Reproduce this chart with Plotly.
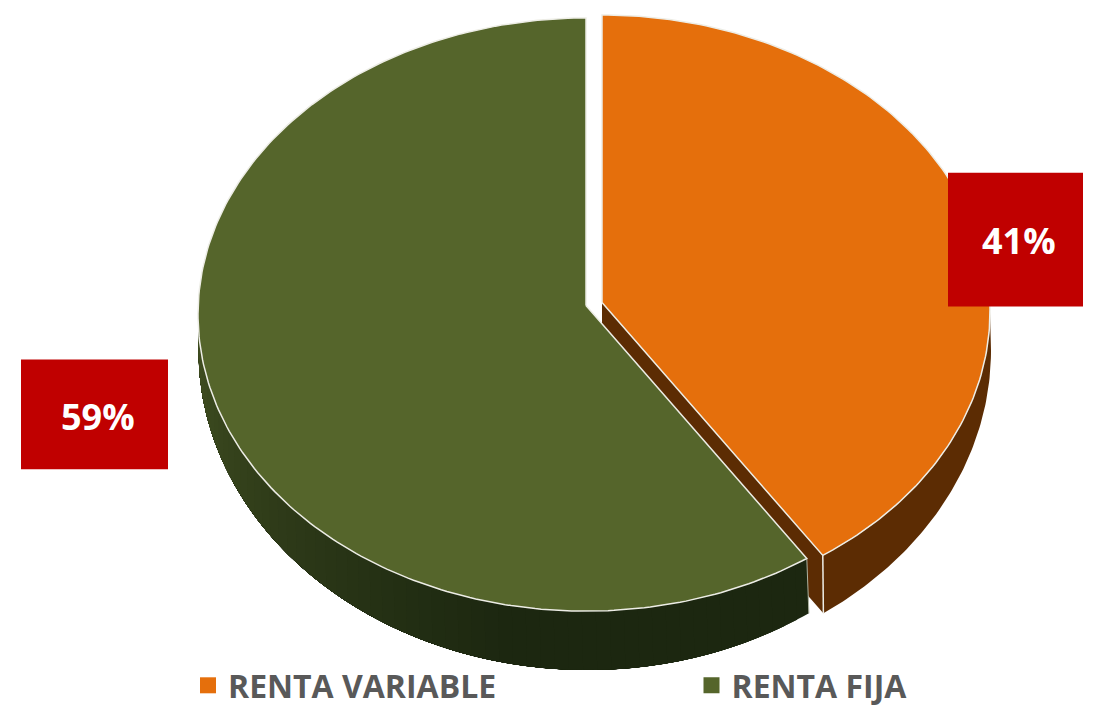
import numpy as np
import plotly.graph_objects as go

categories = ["RENTA VARIABLE", "RENTA FIJA"]
values = [41, 59]
top_colors = ["#E56F0C", "#55652B"]

FONT = "Open Sans"
W, H = 1100, 713
RX, RY = 388, 297
BRX, BRY = 389, 320     # lower rim of the disc
WARP = 0.9845           # perspective correction of the slice boundary
CENTERS = {0: (602, 312), 1: (586, 315)}
APEX = {0: (602, 303), 1: (586, 306)}
BOTTOM_C = {0: (602, 351), 1: (587.5, 351)}
EDGE = "#EDEDE6"
ORANGE_WALL = "#5C2C03"

boundary = np.radians(values[0] / sum(values) * 360 * WARP)


def top_arc(i, t):
    cx, cy = CENTERS[i]
    return cx + RX * np.sin(t), cy - RY * np.cos(t)


def low_arc(i, t):
    cx, cy = BOTTOM_C[i]
    return cx + BRX * np.sin(t), cy - BRY * np.cos(t)


def poly(x, y, fill, line=None, width=0.0):
    return go.Scatter(
        x=list(x), y=list(y), mode="lines", fill="toself", fillcolor=fill,
        line=dict(color=line or fill, width=width), hoverinfo="skip", showlegend=False,
    )


def mix(a, b, f):
    return "rgb(%d,%d,%d)" % tuple(round(p + (q - p) * f) for p, q in zip(a, b))


fig = go.Figure()

# orange outer wall
t = np.linspace(np.pi / 2, boundary, 80)
tx, ty = top_arc(0, t)
lx, ly = low_arc(0, t)
fig.add_trace(poly(np.r_[tx, lx[::-1]], np.r_[ty, ly[::-1]], ORANGE_WALL))

# orange cut face
cx, cy = top_arc(0, boundary)
lcx, lcy = low_arc(0, boundary)
ax, ay = APEX[0]
fig.add_trace(poly([ax, cx, lcx, ax, ax], [ay, cy, lcy, ay + (lcy - cy), ay], ORANGE_WALL))
fig.add_trace(go.Scatter(x=[cx, lcx], y=[cy, lcy], mode="lines", line=dict(color=EDGE, width=1.5),
                         hoverinfo="skip", showlegend=False))

# orange top
t = np.linspace(0, boundary, 160)
tx, ty = top_arc(0, t)
fig.add_trace(poly(np.r_[ax, tx, ax], np.r_[ay, ty, ay], top_colors[0], EDGE, 1.5))

# green outer wall, shaded by painting ever shorter overlapping bands
end = 1.5 * np.pi
starts = np.linspace(boundary, end, 60, endpoint=False)
dark, light = (28, 39, 16), (66, 80, 34)
for a in starts:
    t = np.linspace(a, end, 120)
    tx, ty = top_arc(1, t)
    lx, ly = low_arc(1, t)
    f = np.clip((a - np.radians(190)) / np.radians(80), 0, 1) ** 1.1
    fig.add_trace(poly(np.r_[tx, lx[::-1]], np.r_[ty, ly[::-1]], mix(dark, light, f)))

gx, gy = top_arc(1, boundary)
glx, gly = low_arc(1, boundary)
fig.add_trace(go.Scatter(x=[gx, glx], y=[gy, gly], mode="lines", line=dict(color="#AEB3A2", width=1),
                         hoverinfo="skip", showlegend=False))

# green top
t = np.linspace(boundary, 2 * np.pi, 240)
tx, ty = top_arc(1, t)
ax, ay = APEX[1]
fig.add_trace(poly(np.r_[ax, tx, ax], np.r_[ay, ty, ay], top_colors[1], EDGE, 1.5))

# legend entries, one legend box each
legend_ids = ["legend", "legend2"]
legend_left = [188, 691.5]
for name, color, lid in zip(categories, top_colors, legend_ids):
    fig.add_trace(go.Scatter(x=[None], y=[None], mode="markers", name=name, legend=lid, showlegend=True,
                             marker=dict(symbol="square", size=16, color=color)))

# value boxes
boxes = [(948, 173, 1083, 307), (21, 360, 168, 470)]
label_pos = [(1019, 241), (98, 417)]
for v, (x0, y0, x1, y1), (lx_, ly_) in zip(values, boxes, label_pos):
    fig.add_shape(type="rect", x0=x0, y0=y0, x1=x1, y1=y1, fillcolor="#C00000",
                  line=dict(width=0), layer="above")
    fig.add_annotation(x=lx_, y=ly_, text=f"<b>{v}%</b>", showarrow=False,
                       font=dict(family=FONT, size=36, color="white"))

legend_style = dict(orientation="h", y=1 - 686 / H, xanchor="left", yanchor="middle",
                    bgcolor="rgba(0,0,0,0)",
                    font=dict(family=FONT, size=32, color="#595959", weight="bold"))
fig.update_layout(
    width=W, height=H, margin=dict(l=0, r=0, t=0, b=0),
    paper_bgcolor="white", plot_bgcolor="white",
    xaxis=dict(range=[0, W], visible=False, fixedrange=True),
    yaxis=dict(range=[H, 0], visible=False, fixedrange=True),
    legend=dict(x=legend_left[0] / W, **legend_style),
    legend2=dict(x=legend_left[1] / W, **legend_style),
)

fig.write_html("out.html", config={"displayModeBar": False},
               post_script="document.body.style.margin='0';")
